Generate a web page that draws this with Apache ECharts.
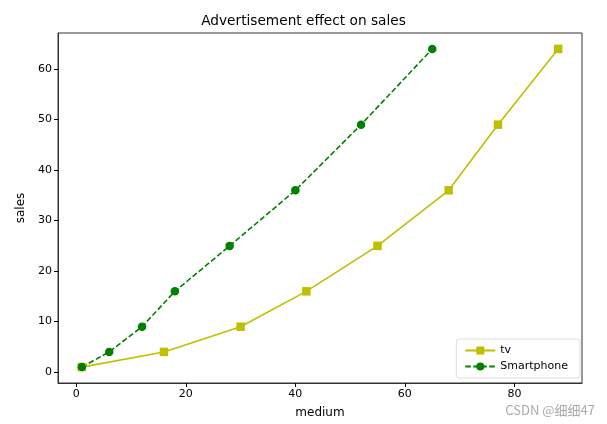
<!DOCTYPE html>
<html><head><meta charset="utf-8">
<script src="https://cdn.jsdelivr.net/npm/echarts@6/dist/echarts.min.js"></script>
<style>html,body{margin:0;padding:0;background:#fff}#c{width:607px;height:424px}</style>
</head><body><div id="c"></div>
<script>
const tvX = [1, 16, 30, 42, 55, 68, 77, 88];
const phoneX = [1, 6, 12, 18, 28, 40, 52, 65];
const salesY = [1, 4, 9, 16, 25, 36, 49, 64];
const xTicks = [0, 20, 40, 60, 80];
const yTicks = [0, 10, 20, 30, 40, 50, 60];

const font = 'DejaVu Sans';
const chart = echarts.init(document.getElementById('c'), null, {renderer: 'canvas'});
chart.setOption({
  animation: false,
  backgroundColor: '#fff',
  title: {text: 'Advertisement effect on sales', left: 'center', top: 9,
    textStyle: {fontFamily: font, fontSize: 13.7, fontWeight: 'normal', color: '#000'}},
  grid: {left: 58, right: 25, top: 33, bottom: 41, show: true, borderColor: '#333', borderWidth: 1, backgroundColor: 'transparent'},
  legend: {orient: 'vertical', right: 27, bottom: 46, itemWidth: 30, itemHeight: 10, itemGap: 5,
    backgroundColor: '#fff', borderColor: '#ddd', borderWidth: 1, borderRadius: 3, padding: [6, 12, 6, 8],
    textStyle: {fontFamily: font, fontSize: 11, color: '#000'},
    data: ['tv', 'Smartphone']},
  xAxis: {type: 'value', min: -3.35, max: 92.35, name: 'medium', nameLocation: 'middle', nameGap: 24,
    nameTextStyle: {fontFamily: font, fontSize: 12, color: '#000'},
    axisLine: {show: true, onZero: false, lineStyle: {color: '#333'}}, splitLine: {show: false},
    axisTick: {show: true, inside: false, length: 4, customValues: xTicks, lineStyle: {color: '#000'}},
    axisLabel: {customValues: xTicks, fontFamily: font, fontSize: 11, color: '#000', margin: 6}},
  yAxis: {type: 'value', min: -2.15, max: 67.15, name: 'sales', nameLocation: 'middle', nameGap: 29,
    nameTextStyle: {fontFamily: font, fontSize: 12, color: '#000'},
    axisLine: {show: true, onZero: false, lineStyle: {color: '#333'}}, splitLine: {show: false},
    axisTick: {show: true, inside: false, length: 4, customValues: yTicks, lineStyle: {color: '#000'}},
    axisLabel: {customValues: yTicks, fontFamily: font, fontSize: 11, color: '#000', margin: 6}},
  series: [
    {name: 'tv', type: 'line', data: tvX.map((x, i) => [x, salesY[i]]),
      symbol: 'rect', symbolSize: 8.5, itemStyle: {color: '#bfbf00'},
      lineStyle: {color: '#bfbf00', width: 1.6, type: 'solid'}},
    {name: 'Smartphone', type: 'line', data: phoneX.map((x, i) => [x, salesY[i]]),
      symbol: 'circle', symbolSize: 8.5, itemStyle: {color: '#008000'},
      lineStyle: {color: '#008000', width: 1.6, type: [5.5, 2.5]}}
  ],
  graphic: [{type: 'text', right: 12, bottom: 7,
    style: {text: 'CSDN @细细47', fontFamily: 'Noto Sans CJK SC', fontSize: 13, fill: '#aaa'}}]
});
</script></body></html>
